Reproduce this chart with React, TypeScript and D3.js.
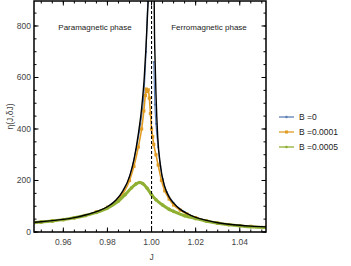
import React from "react";
import * as d3 from "d3";

const theoryLeftJ = [0.947, 0.95, 0.955, 0.96, 0.965, 0.97, 0.975, 0.98, 0.984, 0.987, 0.99, 0.992, 0.994, 0.9955, 0.9967, 0.9975, 0.9982, 0.9986, 0.9989];
const theoryLeftEta = [38, 40, 44, 49, 56, 66, 79, 98, 125, 160, 215, 280, 380, 480, 600, 720, 850, 920, 1000];
const theoryRightJ = [1.0010, 1.0012, 1.0013, 1.0016, 1.002, 1.0028, 1.004, 1.006, 1.008, 1.01, 1.013, 1.016, 1.02, 1.025, 1.03, 1.035, 1.04, 1.045, 1.052];
const theoryRightEta = [1000, 900, 800, 668, 540, 370, 260, 175, 135, 112, 88, 72, 57, 45, 36, 30, 26, 23, 20];

const b0J = [0.95, 0.96, 0.97, 0.98, 0.985, 0.99, 0.993, 0.995, 0.9965, 0.9975, 0.9985, 1.001, 1.0015, 1.002, 1.003, 1.004, 1.005, 1.007, 1.01, 1.015, 1.02, 1.03, 1.04, 1.05];
const b0Eta = [40, 49, 66, 98, 130, 212, 320, 420, 530, 700, 950, 660, 495, 420, 330, 255, 205, 155, 113, 78, 57, 36, 26, 20];

const b1J = [0.947, 0.95, 0.955, 0.96, 0.965, 0.97, 0.975, 0.98, 0.985, 0.99, 0.992, 0.994, 0.9955, 0.9965, 0.9972, 0.9976, 0.998, 0.9985, 0.999, 0.9995, 1.0, 1.0005, 1.001, 1.002, 1.003, 1.0045, 1.006, 1.008, 1.01, 1.013, 1.016, 1.02, 1.025, 1.03, 1.035, 1.04, 1.045, 1.052];
const b1Eta = [37, 39, 43, 48, 55, 64, 78, 96, 126, 200, 255, 330, 400, 470, 530, 555, 545, 552, 520, 460, 400, 370, 340, 300, 260, 200, 160, 128, 105, 85, 70, 56, 43, 35, 29, 25, 22, 19];

const b5J = [0.947, 0.95, 0.955, 0.96, 0.965, 0.97, 0.975, 0.98, 0.985, 0.988, 0.991, 0.993, 0.9945, 0.996, 0.998, 1.0, 1.002, 1.005, 1.008, 1.01, 1.015, 1.02, 1.025, 1.03, 1.035, 1.04, 1.045, 1.052];
const b5Eta = [37, 39, 43, 48, 55, 64, 76, 93, 120, 145, 172, 187, 192, 188, 170, 145, 125, 105, 88, 80, 63, 52, 42, 34, 28, 24, 20, 17];

const xTicks = [0.96, 0.98, 1.0, 1.02, 1.04];
const yTicks = [0, 200, 400, 600, 800];
const legendLabels = ["B =0", "B =0.0001", "B =0.0005"];
const colors = ["#5e81b5", "#e19c24", "#8fb032"];

const W = 351, H = 266;
const L = 34, R = 266, T = 1, B = 232;

export default function App() {
  const x = d3.scaleLinear().domain([0.9467, 1.0519]).range([L, R]);
  const y = d3.scaleLinear().domain([0, 897]).range([B, T]);
  const line = d3.line<[number, number]>().x(d => x(d[0])).y(d => y(d[1])).curve(d3.curveMonotoneX);
  const zip = (a: number[], b: number[]) => a.map((v, i) => [v, b[i]] as [number, number]);

  const tl = zip(theoryLeftJ, theoryLeftEta);
  const tr = zip(theoryRightJ, theoryRightEta);
  const s0 = zip(b0J, b0Eta);
  const s1 = zip(b1J, b1Eta);
  const s5 = zip(b5J, b5Eta);
  const s0L = s0.filter(d => d[0] < 1), s0R = s0.filter(d => d[0] > 1);

  const xMinor = d3.range(0.95, 1.0521, 0.005);
  const yMinor = d3.range(0, 900, 50);
  const font = "Liberation Sans, Arial, sans-serif";
  const tickCol = "#444";

  return (
    <svg width={W} height={H} style={{ position: "absolute", left: 0, top: 0, background: "#fff" }}>
      <defs>
        <clipPath id="plotclip">
          <rect x={L} y={T} width={R - L} height={B - T} />
        </clipPath>
      </defs>
      <g clipPath="url(#plotclip)">
        <path d={line(s0L) || ""} fill="none" stroke={colors[0]} strokeWidth={1.2} />
        <path d={line(s0R) || ""} fill="none" stroke={colors[0]} strokeWidth={1.2} />
        {s0.map((d, i) => <circle key={"b" + i} cx={x(d[0])} cy={y(d[1])} r={1.1} fill={colors[0]} />)}
        <path d={line(s1) || ""} fill="none" stroke={colors[1]} strokeWidth={1.6} />
        {s1.map((d, i) => <rect key={"o" + i} x={x(d[0]) - 1.6} y={y(d[1]) - 1.6} width={3.2} height={3.2} fill={colors[1]} />)}
        <path d={line(s5) || ""} fill="none" stroke={colors[2]} strokeWidth={3} />
        {s5.map((d, i) => <circle key={"g" + i} cx={x(d[0])} cy={y(d[1])} r={1.8} fill={colors[2]} />)}
        <path d={line(tl) || ""} fill="none" stroke="#000" strokeWidth={1.4} />
        <path d={line(tr) || ""} fill="none" stroke="#000" strokeWidth={1.4} />
        <line x1={x(1)} x2={x(1)} y1={T} y2={B} stroke="#000" strokeWidth={1.1} strokeDasharray="3,2" />
      </g>
      {/* frame */}
      <rect x={L} y={T} width={R - L} height={B - T} fill="none" stroke="#000" strokeWidth={1.5} />
      {/* x ticks */}
      {xMinor.map((v, i) => (
        <g key={"xm" + i}>
          <line x1={x(v)} x2={x(v)} y1={B} y2={B - 2.5} stroke="#000" strokeWidth={1} />
          <line x1={x(v)} x2={x(v)} y1={T} y2={T + 2.5} stroke="#000" strokeWidth={1} />
        </g>
      ))}
      {xTicks.map((v, i) => (
        <g key={"xt" + i}>
          <line x1={x(v)} x2={x(v)} y1={B} y2={B - 4.5} stroke="#000" strokeWidth={1} />
          <line x1={x(v)} x2={x(v)} y1={T} y2={T + 4.5} stroke="#000" strokeWidth={1} />
          <text x={x(v)} y={B + 13} textAnchor="middle" fontSize={8.5} fontFamily={font} fill={tickCol}>{v.toFixed(2)}</text>
        </g>
      ))}
      {/* y ticks */}
      {yMinor.map((v, i) => (
        <g key={"ym" + i}>
          <line x1={L} x2={L + 2.5} y1={y(v)} y2={y(v)} stroke="#000" strokeWidth={1} />
          <line x1={R} x2={R - 2.5} y1={y(v)} y2={y(v)} stroke="#000" strokeWidth={1} />
        </g>
      ))}
      {yTicks.map((v, i) => (
        <g key={"yt" + i}>
          <line x1={L} x2={L + 4.5} y1={y(v)} y2={y(v)} stroke="#000" strokeWidth={1} />
          <line x1={R} x2={R - 4.5} y1={y(v)} y2={y(v)} stroke="#000" strokeWidth={1} />
          <text x={L - 3} y={y(v) + 3} textAnchor="end" fontSize={8.5} fontFamily={font} fill={tickCol}>{v}</text>
        </g>
      ))}
      {/* axis labels */}
      <text x={x(1)} y={260} textAnchor="middle" fontSize={8.5} fontFamily={font} fill={tickCol}>J</text>
      <text transform={`translate(13,${(T + B) / 2}) rotate(-90)`} textAnchor="middle" fontSize={8.5} fontFamily={font} fill={tickCol}>η(J,δJ)</text>
      {/* phase labels */}
      <text x={95} y={30} textAnchor="middle" fontSize={8} fontFamily={font} fill="#222">Paramagnetic phase</text>
      <text x={209} y={30} textAnchor="middle" fontSize={8} fontFamily={font} fill="#222">Ferromagnetic phase</text>
      {/* legend */}
      {legendLabels.map((lab, i) => {
        const ly = 117 + i * 15;
        return (
          <g key={"lg" + i}>
            <line x1={279} x2={294} y1={ly} y2={ly} stroke={colors[i]} strokeWidth={1.3} />
            {i === 1 ? <rect x={285} y={ly - 1.5} width={3} height={3} fill={colors[i]} /> : <circle cx={286.5} cy={ly} r={1.3} fill={colors[i]} />}
            <text x={299} y={ly + 3} fontSize={8.5} fontFamily={font} fill="#222">{lab}</text>
          </g>
        );
      })}
    </svg>
  );
}
